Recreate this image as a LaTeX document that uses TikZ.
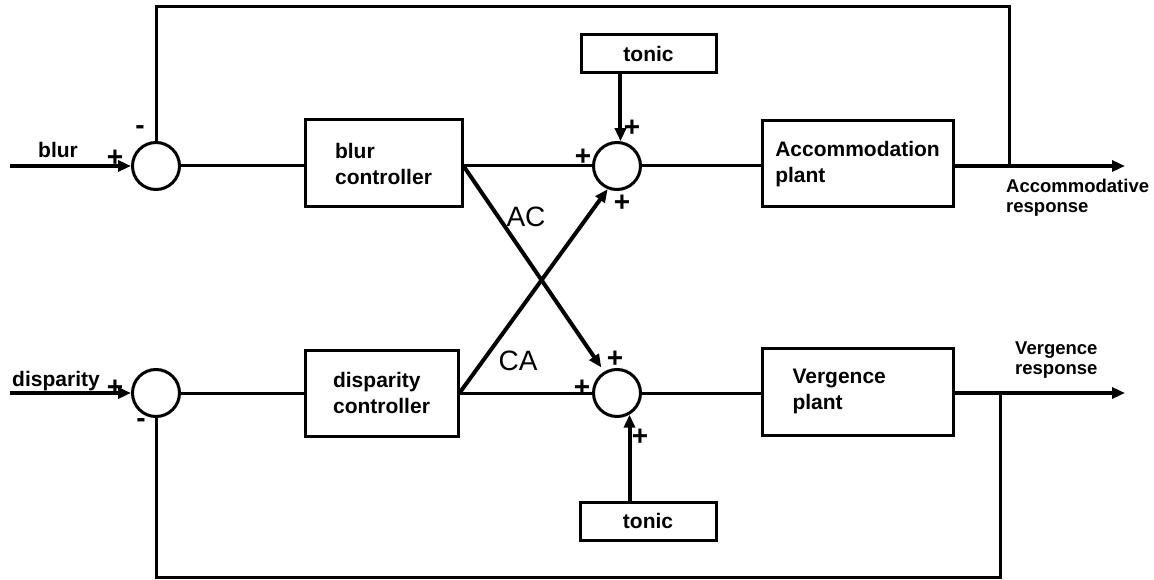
\documentclass[tikz,border=0pt]{standalone}
\usepackage{fontspec}
\setmainfont{Liberation Sans}
\usetikzlibrary{arrows.meta}
\begin{document}
\begin{tikzpicture}[x=1pt,y=-1pt,
  blk/.style={draw, line width=3pt, align=left, inner sep=0pt,
    font=\bfseries\fontsize{21}{26}\selectfont},
  sumj/.style={draw, circle, line width=3pt, minimum size=47pt, inner sep=0pt},
  wire/.style={line width=3pt},
  sig/.style={line width=4pt, -{Triangle[length=13pt,width=11pt]}},
  sgn/.style={inner sep=0pt, font=\bfseries\fontsize{28}{28}\selectfont},
  lbl/.style={inner sep=0pt, font=\bfseries\fontsize{21}{26}\selectfont},
  outlbl/.style={inner sep=0pt, anchor=west, align=left,
    font=\bfseries\fontsize{18.5}{20}\selectfont},
  gain/.style={inner sep=0pt, font=\fontsize{28}{28}\selectfont}]
\useasboundingbox (0,0) rectangle (1154,580);

% summing junctions
\node[sumj] (sumA1) at (156,166) {};
\node[sumj] (sumA2) at (617,166) {};
\node[sumj] (sumB1) at (156,393) {};
\node[sumj] (sumB2) at (617,393) {};

% blocks
\node[blk, minimum width=157pt, minimum height=87pt] (blurctl) at (383.5,163.5) {blur\\controller};
\node[blk, minimum width=153pt, minimum height=86pt] (dispctl) at (381.5,393) {disparity\\controller};
\node[blk, minimum width=191pt, minimum height=86pt] (accplant) at (857.5,164) {Accommodation\\plant};
\node[blk, minimum width=191pt, minimum height=87pt, text width=130pt] (verplant) at (857.5,391.5) {Vergence\\plant};
\node[blk, align=center, minimum width=135pt, minimum height=38pt] (tonicA) at (648.5,54) {tonic};
\node[blk, align=center, minimum width=136pt, minimum height=38pt] (tonicB) at (648,521) {tonic};

% free ends and branch points
\coordinate (inA) at (10,166);
\coordinate (inB) at (10,393);
\coordinate (outA) at (1125,166);
\coordinate (outB) at (1125,393);
\coordinate (tapA) at (1009,166);
\coordinate (tapB) at (1000,393);

% accommodation loop
\draw[sig] (inA) -- (sumA1.west);
\draw[wire] (sumA1.east) -- (blurctl.west |- sumA1);
\draw[wire] (blurctl.east |- sumA2) -- (sumA2.west);
\draw[wire] (sumA2.east) -- (accplant.west |- sumA2);
\draw[sig] (accplant.east |- sumA2) -- (outA);
\draw[wire] (tapA) -- ++(0,-159) -| (sumA1.north);
\draw[sig] (sumA2.82 |- tonicA.south) -- (sumA2.82);

% vergence loop
\draw[sig] (inB) -- (sumB1.west);
\draw[wire] (sumB1.east) -- (dispctl.west |- sumB1);
\draw[wire] (dispctl.east |- sumB2) -- (sumB2.west);
\draw[wire] (sumB2.east) -- (verplant.west |- sumB2);
\draw[sig] (verplant.east |- sumB2) -- (outB);
\draw[wire] (tapB) -- ++(0,184) -| (sumB1.south);
\draw[sig] (sumB2.300 |- tonicB.north) -- (sumB2.300);

% cross links
\draw[sig, shorten >=5pt] (blurctl.east |- sumA2) -- (sumB2.121);
\draw[sig] (dispctl.east |- sumB2) -- (sumA2.248);

% signal labels
\node[lbl] (tblur) at (58,150) {blur};
\node[lbl] (tdisp) at (56,381) {disparity};
\node[outlbl] (taccr) at (1006,198) {Accommodative\\response};
\node[outlbl] (tverr) at (1015,360) {Vergence\\response};
\node[gain] (tac) at (526,217) {AC};
\node[gain] (tca) at (518,361) {CA};

% signs
\node[sgn] (sA1p) at (115,158) {+};
\node[sgn] (sA1m) at (140,130) {-};
\node[sgn] (sB1p) at (115,388) {+};
\node[sgn] (sB1m) at (141,423) {-};
\node[sgn] (sA2t) at (632,128) {+};
\node[sgn] (sA2l) at (583,157) {+};
\node[sgn] (sA2b) at (622,203) {+};
\node[sgn] (sB2t) at (615,359) {+};
\node[sgn] (sB2l) at (582,388) {+};
\node[sgn] (sB2b) at (640,437) {+};
\end{tikzpicture}
\end{document}
